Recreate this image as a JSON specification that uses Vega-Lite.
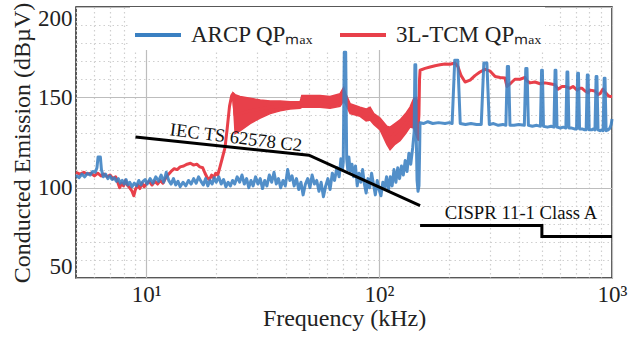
{
  "$schema": "https://vega.github.io/schema/vega-lite/v6.json",
  "width": 536,
  "height": 271,
  "autosize": {"type": "none"},
  "padding": {"left": 76, "top": 7, "right": 19, "bottom": 60},
  "background": "white",
  "config": {
    "view": {"stroke": "#222", "strokeWidth": 1.5},
    "axis": {"labelFont": "Liberation Serif", "labelFontSize": 23, "labelColor": "#222", "titleFont": "Liberation Serif", "titleFontSize": 24, "titleFontWeight": "normal", "titleColor": "#222", "domain": false, "ticks": false, "labelOverlap": false},
    "legend": {"labelFont": "Liberation Serif", "labelFontSize": 23, "labelColor": "#222"}
  },
  "datasets": {
    "blue": [
      {"f":5.0,"v":107},{"f":5.15,"v":105.5},{"f":5.3,"v":107.5},{"f":5.45,"v":106},{"f":5.6,"v":108},{"f":5.75,"v":107},{"f":5.9,"v":109},{"f":6.05,"v":108.5},{"f":6.15,"v":111},{"f":6.22,"v":117},{"f":6.36,"v":117},{"f":6.43,"v":110},{"f":6.55,"v":106},{"f":6.7,"v":107.5},{"f":6.85,"v":105},{"f":7.0,"v":106.5},{"f":7.15,"v":104.5},{"f":7.3,"v":105.5},{"f":7.45,"v":103.5},{"f":7.6,"v":105},{"f":7.75,"v":102.5},{"f":7.9,"v":104},{"f":8.05,"v":102},{"f":8.2,"v":104.5},{"f":8.35,"v":101.5},{"f":8.5,"v":103},{"f":8.7,"v":100.5},{"f":8.9,"v":102.5},{"f":9.1,"v":101},{"f":9.3,"v":104},{"f":9.5,"v":101.5},{"f":9.7,"v":103.5},{"f":9.9,"v":104.5},{"f":10.1,"v":102},{"f":10.4,"v":105},{"f":10.7,"v":102.5},{"f":11.0,"v":106},{"f":11.3,"v":103.5},{"f":11.6,"v":107},{"f":11.9,"v":103},{"f":12.2,"v":108.5},{"f":12.5,"v":104},{"f":12.8,"v":102},{"f":13.1,"v":105},{"f":13.4,"v":101.5},{"f":13.7,"v":103.5},{"f":14.0,"v":100.5},{"f":14.4,"v":103},{"f":14.8,"v":101},{"f":15.2,"v":104},{"f":15.6,"v":102},{"f":16.0,"v":105},{"f":16.4,"v":102.5},{"f":16.8,"v":106},{"f":17.2,"v":103.5},{"f":17.6,"v":101.5},{"f":18.0,"v":105},{"f":18.4,"v":101},{"f":18.8,"v":104},{"f":19.2,"v":102},{"f":19.6,"v":105.5},{"f":20.0,"v":103},{"f":20.5,"v":106},{"f":21.0,"v":102},{"f":21.5,"v":104.5},{"f":22.0,"v":100.5},{"f":22.5,"v":103},{"f":23.0,"v":101},{"f":23.5,"v":104},{"f":24.0,"v":102},{"f":24.6,"v":106},{"f":25.2,"v":103},{"f":25.8,"v":107},{"f":26.4,"v":102},{"f":27.0,"v":105},{"f":27.6,"v":100},{"f":28.2,"v":104},{"f":28.8,"v":101},{"f":29.5,"v":106},{"f":30.2,"v":102},{"f":30.9,"v":105},{"f":31.6,"v":99.5},{"f":32.3,"v":104},{"f":33.0,"v":101},{"f":33.8,"v":107},{"f":34.6,"v":103},{"f":35.4,"v":108.5},{"f":36.2,"v":102},{"f":37.0,"v":105},{"f":37.8,"v":100},{"f":38.7,"v":104},{"f":39.6,"v":101},{"f":40.5,"v":110},{"f":41.4,"v":104},{"f":42.3,"v":106.5},{"f":43.2,"v":101},{"f":44.2,"v":105},{"f":45.2,"v":99},{"f":46.2,"v":103},{"f":47.2,"v":96},{"f":48.3,"v":102},{"f":49.4,"v":105},{"f":50.5,"v":100},{"f":51.6,"v":107},{"f":52.8,"v":102},{"f":54.0,"v":104},{"f":55.2,"v":98},{"f":56.4,"v":103},{"f":57.7,"v":95},{"f":59.0,"v":101},{"f":60.3,"v":105},{"f":61.6,"v":99},{"f":63.0,"v":108},{"f":64.4,"v":104},{"f":65.9,"v":111},{"f":67.4,"v":106},{"f":68.6,"v":116},{"f":69.6,"v":110},{"f":70.2,"v":114},{"f":70.9,"v":175},{"f":71.9,"v":175},{"f":72.6,"v":116},{"f":73.4,"v":110},{"f":74.2,"v":117},{"f":75.2,"v":109},{"f":76.5,"v":113},{"f":77.8,"v":106},{"f":79.2,"v":112},{"f":80.6,"v":101},{"f":82.0,"v":108},{"f":83.5,"v":103},{"f":85.0,"v":110},{"f":86.5,"v":102},{"f":88.0,"v":97},{"f":89.6,"v":105},{"f":91.2,"v":100},{"f":92.9,"v":108},{"f":94.6,"v":102},{"f":96.4,"v":96},{"f":98.2,"v":104},{"f":100.0,"v":99},{"f":101.9,"v":95.5},{"f":103.8,"v":103},{"f":105.7,"v":100},{"f":107.7,"v":106},{"f":109.7,"v":98.5},{"f":111.7,"v":106},{"f":113.8,"v":101},{"f":115.9,"v":110},{"f":118.1,"v":103},{"f":120.3,"v":111},{"f":122.5,"v":105},{"f":124.8,"v":112},{"f":127.1,"v":107},{"f":129.5,"v":115},{"f":131.9,"v":109},{"f":134.3,"v":119},{"f":136.8,"v":113},{"f":139.4,"v":122},{"f":141.5,"v":131},{"f":142.5,"v":168},{"f":143.7,"v":168},{"f":144.6,"v":125},{"f":145.6,"v":104},{"f":147,"v":98},{"f":148.4,"v":101},{"f":149.3,"v":120},{"f":149.9,"v":136},{"f":155,"v":135.5},{"f":162,"v":136.5},{"f":170,"v":135.5},{"f":180,"v":136},{"f":192,"v":135.5},{"f":200,"v":136},{"f":205.9,"v":135.5},{"f":211.3,"v":170.5},{"f":217.7,"v":170.5},{"f":223.1,"v":135.5},{"f":235,"v":135},{"f":248,"v":135.5},{"f":262,"v":135},{"f":274.6,"v":135},{"f":281.7,"v":169},{"f":290.3,"v":169},{"f":297.4,"v":135},{"f":310,"v":135.5},{"f":325,"v":134.5},{"f":340,"v":135},{"f":350.3,"v":134.5},{"f":355.4,"v":167},{"f":359.6,"v":167},{"f":364.7,"v":134.5},{"f":380,"v":134.5},{"f":398,"v":135},{"f":420.4,"v":134.5},{"f":426.4,"v":166},{"f":431.6,"v":166},{"f":437.6,"v":134.5},{"f":455,"v":134},{"f":475,"v":134.5},{"f":493,"v":134},{"f":498.5,"v":165},{"f":502.5,"v":165},{"f":508,"v":134},{"f":528,"v":133.5},{"f":548,"v":134},{"f":563.4,"v":133.5},{"f":569.7,"v":165},{"f":574.3,"v":165},{"f":580.6,"v":133.5},{"f":600,"v":133},{"f":618,"v":133.5},{"f":633.8,"v":133},{"f":640.9,"v":164},{"f":646.1,"v":164},{"f":653.2,"v":133},{"f":672,"v":133},{"f":690,"v":132.5},{"f":704.3,"v":132.5},{"f":712.1,"v":163.3},{"f":717.9,"v":163.3},{"f":725.7,"v":132.5},{"f":745,"v":132.5},{"f":763,"v":132},{"f":774.7,"v":132},{"f":783.4,"v":162.4},{"f":789.6,"v":162.4},{"f":798.3,"v":132},{"f":818,"v":132},{"f":833,"v":132.5},{"f":845.1,"v":132},{"f":854.6,"v":161.5},{"f":861.4,"v":161.5},{"f":870.9,"v":132},{"f":888,"v":131.5},{"f":903,"v":132},{"f":915.6,"v":131.5},{"f":925.8,"v":160.5},{"f":933.2,"v":160.5},{"f":943.4,"v":131.5},{"f":962,"v":132},{"f":980,"v":133},{"f":992,"v":135},{"f":1000,"v":138}
    ],
    "red": [
      {"f":5.0,"v":108.5},{"f":5.2,"v":107.5},{"f":5.4,"v":108.5},{"f":5.6,"v":107.5},{"f":5.8,"v":108},{"f":6.0,"v":106.5},{"f":6.2,"v":108},{"f":6.4,"v":106.5},{"f":6.6,"v":107.5},{"f":6.8,"v":106},{"f":7.0,"v":107},{"f":7.2,"v":105},{"f":7.4,"v":106},{"f":7.55,"v":103},{"f":7.7,"v":100},{"f":7.85,"v":102.5},{"f":8.0,"v":101},{"f":8.15,"v":104},{"f":8.3,"v":101.5},{"f":8.5,"v":100},{"f":8.7,"v":98},{"f":8.85,"v":95.5},{"f":9.0,"v":99},{"f":9.2,"v":101.5},{"f":9.4,"v":99.5},{"f":9.6,"v":102.5},{"f":9.8,"v":100.5},{"f":10.0,"v":102},{"f":10.3,"v":103.5},{"f":10.6,"v":101.5},{"f":10.9,"v":103.5},{"f":11.2,"v":102},{"f":11.5,"v":104},{"f":11.8,"v":102.5},{"f":12.1,"v":105},{"f":12.4,"v":107},{"f":12.8,"v":109},{"f":13.2,"v":110.5},{"f":13.6,"v":110},{"f":14.0,"v":111.5},{"f":14.5,"v":112},{"f":15.0,"v":113},{"f":15.5,"v":113.5},{"f":16.0,"v":112.5},{"f":16.5,"v":113},{"f":17.0,"v":111.5},{"f":17.5,"v":111},{"f":17.9,"v":108},{"f":18.3,"v":105.5},{"f":18.7,"v":104.5},{"f":19.1,"v":107},{"f":19.5,"v":105.5},{"f":19.9,"v":108},{"f":20.3,"v":107},{"f":20.7,"v":111},{"f":21.2,"v":116},{"f":21.8,"v":122},{"f":22.3,"v":133},{"f":22.8,"v":145},{"f":23.3,"v":151},{"f":23.6,"v":152},{"f":24.1,"v":140},{"f":25.3,"v":141},{"f":27.96,"v":142.5},{"f":30.9,"v":143.5},{"f":34.1,"v":144.5},{"f":37.6,"v":145},{"f":41.5,"v":145.5},{"f":45.8,"v":145.5},{"f":46.6,"v":148},{"f":50.6,"v":148},{"f":55.8,"v":148},{"f":61.6,"v":147},{"f":68,"v":148.5},{"f":70.5,"v":152},{"f":72,"v":149},{"f":75.1,"v":144},{"f":82.9,"v":142},{"f":88,"v":140},{"f":91.5,"v":141},{"f":95,"v":138},{"f":101,"v":135},{"f":108,"v":129},{"f":111.5,"v":127},{"f":117,"v":130},{"f":123,"v":132},{"f":130,"v":135.5},{"f":135.8,"v":139},{"f":141,"v":141},{"f":145,"v":139},{"f":147.5,"v":136},{"f":148.3,"v":140},{"f":149.2,"v":160},{"f":150,"v":165},{"f":157.5,"v":166},{"f":165.6,"v":166.8},{"f":174,"v":167.5},{"f":182.6,"v":168},{"f":192,"v":168.5},{"f":201.7,"v":168.3},{"f":212,"v":169},{"f":218,"v":167},{"f":225,"v":162},{"f":234,"v":158.5},{"f":246,"v":159.5},{"f":258,"v":162},{"f":271,"v":164},{"f":285,"v":165.5},{"f":300,"v":164.5},{"f":315,"v":161.5},{"f":331,"v":161},{"f":347,"v":160.7},{"f":354,"v":156},{"f":365,"v":157.5},{"f":372,"v":158.5},{"f":383,"v":160},{"f":403,"v":160},{"f":423,"v":161},{"f":432,"v":159},{"f":445,"v":158},{"f":467,"v":158.5},{"f":491,"v":157.5},{"f":506,"v":158},{"f":516,"v":158},{"f":542,"v":157.5},{"f":569,"v":157},{"f":586,"v":154.5},{"f":610,"v":156},{"f":628,"v":156},{"f":647,"v":155.5},{"f":660,"v":155},{"f":680,"v":156},{"f":708,"v":154},{"f":729,"v":155},{"f":744,"v":155},{"f":766,"v":153.5},{"f":789,"v":152.5},{"f":805,"v":154},{"f":845,"v":153.5},{"f":871,"v":151.5},{"f":888,"v":152},{"f":915,"v":154.5},{"f":933,"v":153},{"f":962,"v":151},{"f":980,"v":150.5},{"f":1000,"v":150.5}
    ],
    "band": [
      {"f":23.6,"lo":151,"hi":152.5},{"f":24.1,"lo":130,"hi":151.5},{"f":25.3,"lo":131.5,"hi":150.5},{"f":27.96,"lo":135.5,"hi":149.5},{"f":30.9,"lo":138.5,"hi":148.5},{"f":34.1,"lo":141,"hi":148},{"f":37.6,"lo":142.5,"hi":148},{"f":41.5,"lo":143.5,"hi":147.5},{"f":45.8,"lo":144,"hi":147.5},{"f":46.6,"lo":144.5,"hi":151},{"f":50.6,"lo":144.5,"hi":151},{"f":55.8,"lo":144.5,"hi":151},{"f":61.6,"lo":144,"hi":150.5},{"f":68,"lo":145,"hi":152},{"f":70.5,"lo":148,"hi":155.5},{"f":72,"lo":146,"hi":152},{"f":75.1,"lo":141,"hi":146.5},{"f":82.9,"lo":139.5,"hi":144.5},{"f":88,"lo":137,"hi":143.5},{"f":91.5,"lo":137.5,"hi":144.5},{"f":95,"lo":135,"hi":141},{"f":101,"lo":132,"hi":138.5},{"f":108,"lo":124,"hi":134},{"f":111.5,"lo":121,"hi":133.5},{"f":117,"lo":124,"hi":135.5},{"f":123,"lo":126,"hi":137.5},{"f":130,"lo":130,"hi":141},{"f":135.8,"lo":133.6,"hi":144.6},{"f":141,"lo":133,"hi":149.6},{"f":145,"lo":128,"hi":150},{"f":147.5,"lo":126,"hi":145}
    ],
    "lim": [
      {"f":9,"v":128,"g":"iec"},{"f":50,"v":118,"g":"iec"},{"f":150,"v":90,"g":"iec"},
      {"f":150,"v":79,"g":"cispr"},{"f":500,"v":79,"g":"cispr"},{"f":500,"v":73,"g":"cispr"},{"f":1000,"v":73,"g":"cispr"}
    ]
  },
  "encoding": {
    "x": {"field": "f", "type": "quantitative", "scale": {"type": "log", "domain": [5, 1000], "nice": false},
      "axis": {"title": "Frequency (kHz)", "values": [5,6,7,8,9,10,20,30,40,50,60,70,80,90,100,200,300,400,500,600,700,800,900,1000],
        "labelExpr": "datum.value==10?'10¹':datum.value==100?'10²':datum.value==1000?'10³':''",
        "labelFlush": false, "labelPadding": 5, "titlePadding": 0,
        "gridDash": {"condition": {"test": "datum.value==10||datum.value==100||datum.value==1000", "value": []}, "value": [1.5, 3]},
        "gridColor": {"condition": {"test": "datum.value==10||datum.value==100||datum.value==1000", "value": "#bdbdbd"}, "value": "#cfcfcf"},
        "gridWidth": 1.2}},
    "y": {"field": "v", "type": "quantitative", "scale": {"domain": [50, 200], "nice": false, "zero": false},
      "axis": {"title": "Conducted Emission (dBµV)", "values": [50,60,70,80,90,100,110,120,130,140,150,160,170,180,190,200],
        "labelExpr": "(datum.value==50||datum.value==100||datum.value==150||datum.value==200)?datum.label:''",
        "labelFlush": true, "labelPadding": 4, "titlePadding": 3,
        "gridDash": {"condition": {"test": "datum.value==50||datum.value==100||datum.value==150||datum.value==200", "value": []}, "value": [1.5, 3]},
        "gridColor": {"condition": {"test": "datum.value==50||datum.value==100||datum.value==150||datum.value==200", "value": "#bdbdbd"}, "value": "#cfcfcf"},
        "gridWidth": 1.2}}
  },
  "layer": [
    {
      "data": {"name": "band"},
      "mark": {"type": "area", "color": "#e8404a", "stroke": "#e8404a", "strokeWidth": 1.5, "opacity": 1},
      "encoding": {
        "y": {"field": "lo", "type": "quantitative"},
        "y2": {"field": "hi"}
      }
    },
    {
      "data": {"name": "red"},
      "mark": {"type": "line", "strokeWidth": 3, "strokeJoin": "round"},
      "encoding": {
        "color": {"datum": "3L-TCM QPₘₐₓ"}
      }
    },
    {
      "data": {"name": "blue"},
      "mark": {"type": "line", "strokeWidth": 3, "strokeJoin": "round", "opacity": 0.88},
      "encoding": {
        "color": {"datum": "ARCP QPₘₐₓ", "type": "nominal",
          "scale": {"domain": ["ARCP QPₘₐₓ", "3L-TCM QPₘₐₓ"], "range": ["#3a80c2", "#e8404a"]},
          "legend": {"title": null, "orient": "none", "legendX": 54, "legendY": 0, "direction": "horizontal",
            "symbolType": "stroke", "symbolSize": 2116, "symbolStrokeWidth": 4, "symbolOpacity": 1,
            "fillColor": "white", "padding": 3, "columnPadding": 18, "labelOffset": 8,
            "labelFont": "Liberation Serif", "labelFontSize": 23, "labelColor": "#222"}}
      }
    },
    {
      "data": {"name": "lim"},
      "mark": {"type": "line", "color": "black", "strokeWidth": 3},
      "encoding": {
        "detail": {"field": "g"}
      }
    },
    {
      "data": {"values": [{"f": 24.3, "v": 127.8, "t": "IEC TS 62578 C2"}]},
      "mark": {"type": "text", "font": "Liberation Serif", "fontSize": 18.5, "angle": 7, "color": "#111"},
      "encoding": {"text": {"field": "t"}}
    },
    {
      "data": {"values": [{"f": 406.8, "v": 86, "t": "CISPR 11-1 Class A"}]},
      "mark": {"type": "text", "font": "Liberation Serif", "fontSize": 18.7, "color": "#111"},
      "encoding": {"text": {"field": "t"}}
    }
  ]
}
